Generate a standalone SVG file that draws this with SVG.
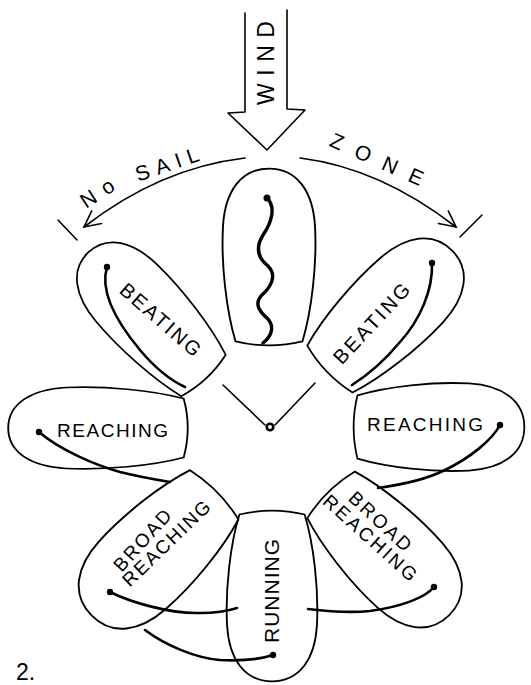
<svg xmlns="http://www.w3.org/2000/svg" xmlns:xlink="http://www.w3.org/1999/xlink" width="531" height="685" viewBox="0 0 531 685">
<style>
.ol{fill:none;stroke:#000;stroke-width:1.8;stroke-linejoin:round;vector-effect:non-scaling-stroke}
.ln{fill:none;stroke:#000;stroke-width:1.6;stroke-linecap:round;stroke-linejoin:round}
.sail{fill:none;stroke:#000;stroke-width:2.6;stroke-linecap:round}
.dot{fill:#000}
.t{font-family:"Liberation Sans",Arial,sans-serif;font-size:19px;fill:#000;text-anchor:middle}
</style>
<defs>
<path id="petal" d="M0,-89 C27,-89 42,-66 44,-32 C46,5 41,52 32,83 Q0,91 -32,83 C-41,52 -46,5 -44,-32 C-42,-66 -27,-89 0,-89 Z"/>
<marker id="ah" viewBox="-20 -10 22 20" refX="0" refY="0" markerWidth="22" markerHeight="20" markerUnits="userSpaceOnUse" orient="auto">
<path d="M-16,-8 L0,0 L-16,8" fill="none" stroke="#000" stroke-width="1.6" stroke-linecap="round"/>
</marker>
</defs>

<g id="wind">
<path class="ln" d="M245,13 L245,112 L228,113 L267,150 L305,110 L287,109 L287,10"/>
<text class="t" style="font-size:23px" transform="translate(266,63) rotate(-90)" x="0" y="8.3" textLength="84" lengthAdjust="spacing">WIND</text>
</g>

<g id="no-sail-zone">
<path class="ln" d="M245,158 Q160,168 84,227" marker-end="url(#ah)"/>
<path class="ln" d="M300,158 Q380,168 456,227" marker-end="url(#ah)"/>
<path class="ln" d="M58,220 L77,240"/>
<path class="ln" d="M460,237 L482,215"/>
<text class="t" style="font-size:21px" transform="translate(97,193) rotate(-33)" x="0" y="7.5" textLength="36" lengthAdjust="spacing">No</text>
<text class="t" style="font-size:21px" transform="translate(167,164) rotate(-19)" x="0" y="7.5" textLength="66" lengthAdjust="spacing">SAIL</text>
<text class="t" style="font-size:21px" transform="translate(377,159) rotate(24)" x="0" y="7.5" textLength="100" lengthAdjust="spacing">ZONE</text>
</g>

<g id="center">
<use xlink:href="#petal" class="ol" transform="translate(269,258) scale(1.045,1.005)"/>
<path class="sail" style="stroke-width:3.4" d="M267,198 C276,207 272,222 263,235 C255,248 258,258 268,266 C278,276 270,288 261,296 C254,304 260,312 267,318 C275,326 272,336 263,343"/>
<circle class="dot" cx="267" cy="198" r="3.5"/>
<path class="ln" d="M223,385 L265,425 M315,383 L275,425"/>
<circle cx="270" cy="427" r="3.3" fill="#fff" stroke="#000" stroke-width="2.6"/>
</g>

<g id="beating-left">
<use xlink:href="#petal" class="ol" transform="translate(148,316) rotate(-43) scale(0.95,0.98)"/>
<path class="sail" d="M107,267 C100,290 115,320 140,350 C155,368 170,380 185,387"/>
<circle class="dot" cx="107" cy="267" r="3.2"/>
<text class="t" style="font-size:20px" transform="translate(160.5,319.5) rotate(41)" x="0" y="7" textLength="100" lengthAdjust="spacing">BEATING</text>
</g>

<g id="beating-right">
<use xlink:href="#petal" class="ol" transform="translate(389,312) rotate(46) scale(1.02,0.99)"/>
<path class="sail" d="M432,263 C433,290 420,320 400,342 C385,360 368,375 352,385"/>
<circle class="dot" cx="432" cy="263" r="3.2"/>
<text class="t" style="font-size:20px" transform="translate(371.5,323.5) rotate(-47)" x="0" y="7" textLength="102" lengthAdjust="spacing">BEATING</text>
</g>

<g id="reaching-left">
<use xlink:href="#petal" class="ol" transform="translate(99,428) rotate(-90) scale(0.92,1.02)"/>
<path class="sail" d="M39,432 C60,450 95,465 120,472 C140,477 158,480 170,482"/>
<circle class="dot" cx="39" cy="432" r="3.2"/>
<text class="t" x="112.5" y="437" textLength="111" lengthAdjust="spacing">REACHING</text>
</g>

<g id="reaching-right">
<use xlink:href="#petal" class="ol" transform="translate(438,427) rotate(90) scale(0.99,0.97)"/>
<path class="sail" d="M500,425 C492,440 470,458 445,470 C425,480 400,485 378,488"/>
<circle class="dot" cx="500" cy="425" r="3.2"/>
<text class="t" x="425" y="431" textLength="116" lengthAdjust="spacing">REACHING</text>
</g>

<g id="broad-reaching-left">
<use xlink:href="#petal" class="ol" transform="translate(155,553) rotate(-134.5) scale(1.08,1.0)"/>
<path class="sail" d="M110,592 C130,602 170,614 200,613 C215,613 228,611 237,608"/>
<circle class="dot" cx="110" cy="592" r="3.2"/>
<text class="t" transform="translate(142,540) rotate(-48)" x="0" y="7" textLength="76" lengthAdjust="spacing">BROAD</text>
<text class="t" transform="translate(166,543) rotate(-44)" x="0" y="7" textLength="114" lengthAdjust="spacing">REACHING</text>
</g>

<g id="broad-reaching-right">
<use xlink:href="#petal" class="ol" transform="translate(388,553) rotate(135.6) scale(1.04,0.98)"/>
<path class="sail" d="M434,587 C425,598 400,607 370,611 C350,613 325,611 308,609"/>
<circle class="dot" cx="434" cy="587" r="3.2"/>
<text class="t" transform="translate(380.5,521) rotate(43)" x="0" y="7" textLength="78" lengthAdjust="spacing">BROAD</text>
<text class="t" transform="translate(370.5,537.5) rotate(42)" x="0" y="7" textLength="119" lengthAdjust="spacing">REACHING</text>
</g>

<g id="running">
<use xlink:href="#petal" class="ol" transform="translate(272,595) rotate(180) scale(1.02,0.97)"/>
<path class="sail" d="M273,655 C258,660 240,661 220,660 C195,658 165,645 145,630"/>
<circle class="dot" cx="273" cy="655" r="3.2"/>
<text class="t" style="font-size:21px" transform="translate(271.5,591) rotate(-90)" x="0" y="7.5" textLength="104" lengthAdjust="spacing">RUNNING</text>
</g>

<text id="figure-number" x="16" y="680" style="font-family:'Liberation Sans',Arial,sans-serif;font-size:23px;fill:#000">2.</text>
</svg>
